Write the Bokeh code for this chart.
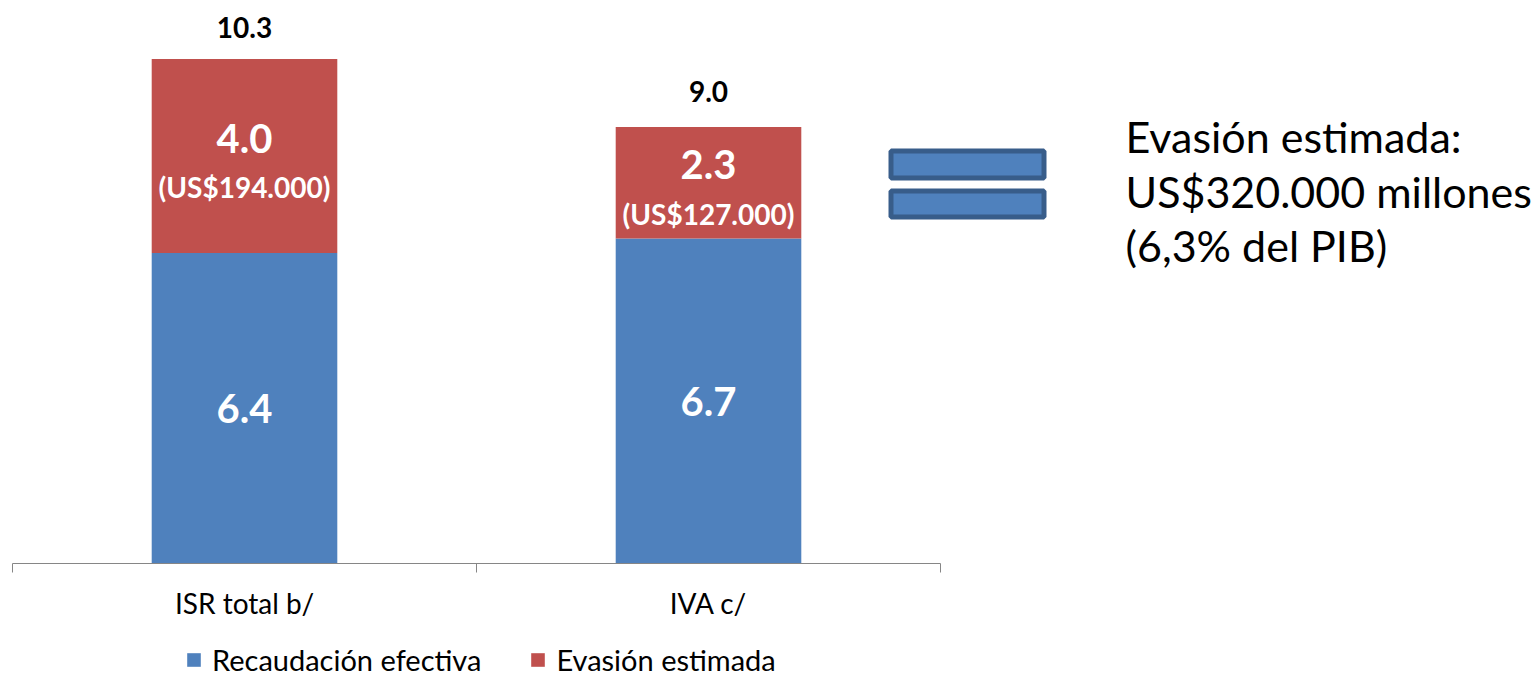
from bokeh.plotting import figure
from bokeh.models import (ColumnDataSource, Range1d, LinearAxis, FixedTicker,
                          Legend, LegendItem)
from bokeh.core.properties import value
from bokeh.embed import file_html
from bokeh.resources import INLINE

# ---- data ----
categories = ["ISR total b/", "IVA c/"]
recaudacion = [6.4, 6.7]
evasion = [4.0, 2.3]
totales = [10.3, 9.0]
evasion_usd = ["(US$194.000)", "(US$127.000)"]
series_names = ["Recaudación efectiva", "Evasión estimada"]
summary_lines = ["Evasión estimada:", "US$320.000 millones", "(6,3% del PIB)"]

BLUE = "#4F81BD"
RED = "#C0504D"
AXIS = "#868686"
FONT = "Lato"

n = len(categories)
xs = [i + 0.5 for i in range(n)]
src = ColumnDataSource(dict(
    x=xs,
    rec=recaudacion,
    eva=evasion,
    tot=totales,
    rec_mid=[r / 2 for r in recaudacion],
    eva_mid=[r + e / 2 for r, e in zip(recaudacion, evasion)],
    rec_lbl=[f"{v:.1f}" for v in recaudacion],
    eva_lbl=[f"{v:.1f}" for v in evasion],
    tot_lbl=[f"{v:.1f}" for v in totales],
    usd=evasion_usd,
))

# frame = whole figure; chart area is x 0..2, y from 0 up
PX_X = 464.0   # pixels per category
PX_Y = 48.5    # pixels per unit
W, H = 1535, 677
X0_PIX, Y0_PIX = 12, 563   # where (0, 0) sits inside the figure
x_range = Range1d(-X0_PIX / PX_X, (W - X0_PIX) / PX_X)
y_range = Range1d(-(H - Y0_PIX) / PX_Y, Y0_PIX / PX_Y)

p = figure(width=W, height=H, output_backend="svg", toolbar_location=None,
           x_range=x_range, y_range=y_range,
           x_axis_location=None, y_axis_location=None, min_border=0)
p.outline_line_color = None
p.xgrid.visible = False
p.ygrid.visible = False
p.background_fill_color = None
p.border_fill_color = None

r_rec, r_eva = p.vbar_stack(["rec", "eva"], x="x", width=0.4, source=src,
                            color=[BLUE, RED], line_color=None)

# category axis baseline (only under the bars' area)
p.segment(x0=[0], y0=[0], x1=[n], y1=[0], line_color=AXIS, line_width=1)

# labels
p.text(x="x", y="rec_mid", text="rec_lbl", source=src, text_align="center",
       text_baseline="middle", text_color="white", text_font=value(FONT),
       text_font_style="bold", text_font_size="40px")
p.text(x="x", y="eva_mid", text="eva_lbl", source=src, text_align="center",
       text_baseline="middle", text_color="white", text_font=value(FONT),
       text_font_style="bold", text_font_size="40px", y_offset=-18)
p.text(x="x", y="eva_mid", text="usd", source=src, text_align="center",
       text_baseline="middle", text_color="white", text_font=value(FONT),
       text_font_style="bold", text_font_size="28px", y_offset=31)
p.text(x="x", y="tot", text="tot_lbl", source=src, text_align="center",
       text_baseline="middle", text_color="black", text_font=value(FONT),
       text_font_style="bold", text_font_size="28px", y_offset=-36)

# axis at y=0: labels at centers, tick marks at category boundaries
ax = LinearAxis(ticker=FixedTicker(ticks=xs, minor_ticks=list(range(n + 1))),
                fixed_location=0)
ax.major_label_overrides = {x: c for x, c in zip(xs, categories)}
ax.axis_line_color = None
ax.major_tick_line_color = None
ax.major_tick_out = 9
ax.major_tick_in = 0
ax.minor_tick_line_color = AXIS
ax.minor_tick_out = 9
ax.minor_tick_in = 0
ax.major_label_standoff = 13
ax.major_label_text_font = FONT
ax.major_label_text_font_size = "28px"
ax.major_label_text_color = "black"
p.add_layout(ax, "below")

legend = Legend(items=[LegendItem(label=series_names[0], renderers=[r_rec]),
                       LegendItem(label=series_names[1], renderers=[r_eva])],
                orientation="horizontal", location=(185, 0),
                border_line_color=None, background_fill_alpha=0,
                label_text_font=FONT, label_text_font_size="29px",
                label_text_color="black",
                glyph_width=17, glyph_height=17, label_standoff=10,
                spacing=48, padding=0, margin=0)
p.add_layout(legend)

# decorations on the right: "=" sign and summary note (page pixel -> data)
def fx(px):
    return (px - X0_PIX) / PX_X

def fy(py):
    return (Y0_PIX - py) / PX_Y

p.quad(left=[fx(890.5)] * 2, right=[fx(1043.5)] * 2,
       top=[fy(150.5), fy(190.5)], bottom=[fy(177.5), fy(216.5)],
       fill_color=BLUE, line_color="#385D8A", line_width=5)
p.text(x=[fx(1125)] * 3, y=[fy(136), fy(191), fy(245)], text=summary_lines,
       text_align="left", text_baseline="alphabetic", text_color="black",
       text_font=value(FONT), text_font_size="43px")

open("out.html", "w").write(file_html(p, INLINE))
